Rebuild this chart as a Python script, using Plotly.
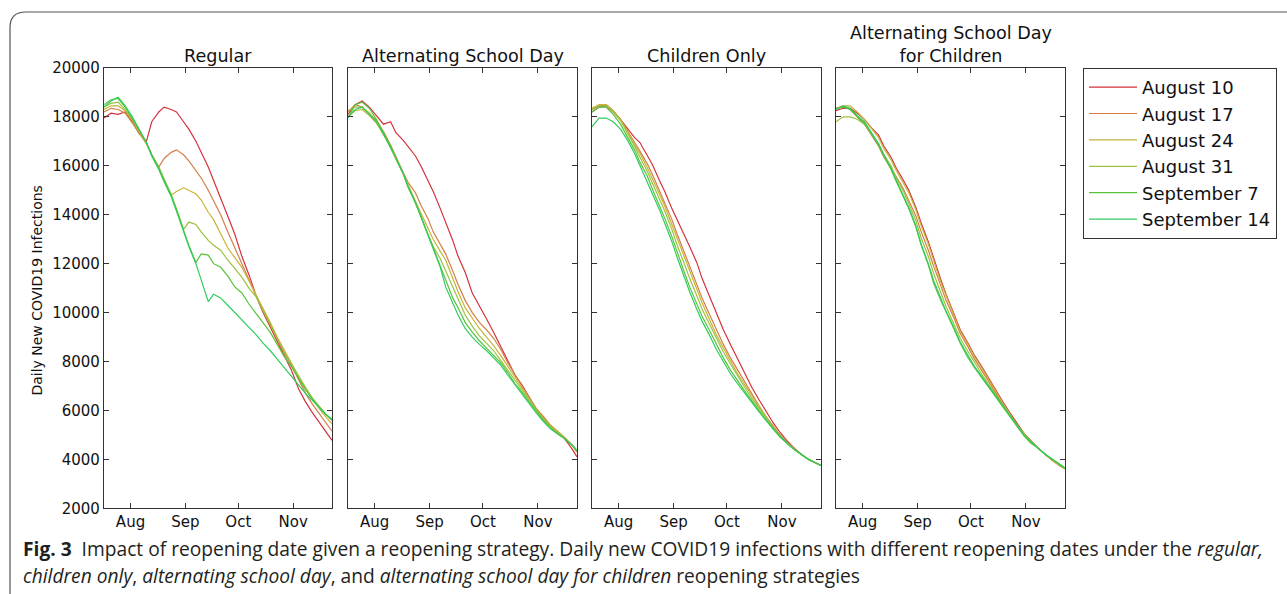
import plotly.graph_objects as go

W, H = 1287, 594
# observed page capture: rendered_row = 8.0 + 0.971 * figure_row
CAP_OFF, CAP_SCALE = 8.0, 0.971

dates = ["2020-07-17","2020-07-21","2020-07-25","2020-07-29","2020-08-02","2020-08-06","2020-08-10",
         "2020-08-13","2020-08-17","2020-08-20","2020-08-24","2020-08-27","2020-08-31","2020-09-03",
         "2020-09-07","2020-09-10","2020-09-14","2020-09-17","2020-09-21","2020-09-25","2020-09-29",
         "2020-10-03","2020-10-07","2020-10-11","2020-10-15","2020-10-19","2020-10-23","2020-10-27",
         "2020-10-31","2020-11-04","2020-11-08","2020-11-12","2020-11-16","2020-11-20","2020-11-23"]

series_names = ["August 10", "August 17", "August 24", "August 31", "September 7", "September 14"]
series_colors = ["#d3333b", "#d27f4a", "#c8b23a", "#9bc23f", "#58c23f", "#2fcc5c"]
panel_titles = ["Regular", "Alternating School Day", "Children Only", "Alternating School Day<br>for Children"]

month_ticks = ["2020-08-01", "2020-09-01", "2020-10-01", "2020-11-01"]
month_labels = ["Aug", "Sep", "Oct", "Nov"]
y_ticks = [2000, 4000, 6000, 8000, 10000, 12000, 14000, 16000, 18000, 20000]

# Regular
reg_aug10 = [17950,18150,18100,18200,17800,17300,17000,17800,18200,18400,18300,18200,17800,17500,17000,16550,15950,15400,14700,13950,13200,12300,11550,10700,10000,9400,8800,8200,7650,6900,6350,5900,5500,5100,4780]
reg_aug17 = [18200,18350,18300,18150,17750,17300,16900,16450,15950,16300,16550,16650,16450,16200,15800,15500,15000,14550,14000,13300,12650,12000,11350,10700,10050,9500,8900,8350,7850,7250,6700,6250,5850,5450,5150]
reg_aug24 = [18300,18450,18450,18250,17850,17350,16900,16450,15950,15450,14800,14950,15100,15000,14850,14600,14100,13800,13200,12650,12250,11850,11300,10750,10200,9600,9000,8450,7950,7400,6900,6450,6050,5700,5450]
reg_aug31 = [18400,18550,18600,18300,17900,17400,16950,16450,15950,15450,14850,14250,13400,13700,13600,13300,12950,12750,12550,12150,11800,11450,11000,10650,10100,9500,8950,8400,7900,7400,6950,6500,6150,5800,5600]
reg_sep7 = [18500,18700,18750,18400,17950,17450,16950,16450,15900,15400,14800,14200,13400,12750,12050,12400,12350,12000,11850,11500,11050,10800,10350,9950,9600,9200,8700,8200,7800,7300,6850,6450,6100,5800,5650]
reg_sep14 = [18400,18650,18800,18450,18000,17450,16950,16400,15850,15350,14750,14150,13350,12700,12000,11300,10450,10750,10600,10300,10000,9700,9400,9100,8750,8450,8100,7750,7400,7050,6700,6400,6100,5800,5600]

# Alternating School Day
alt_aug10 = [18100,18500,18650,18400,18050,17700,17800,17350,17050,16750,16400,16000,15400,14950,14250,13700,12950,12300,11650,10800,10300,9750,9200,8600,8000,7450,7050,6550,6050,5750,5400,5100,4850,4450,4100]
alt_aug17 = [18200,18500,18400,18150,17850,17400,16850,16350,15750,15300,14900,14400,13850,13300,12800,12400,11700,11150,10500,10000,9600,9300,8950,8500,7950,7450,7000,6550,6100,5750,5400,5150,4900,4600,4300]
alt_aug24 = [18000,18250,18300,18050,17750,17300,16800,16300,15700,15200,14550,14100,13500,13000,12500,12150,11400,10850,10200,9750,9350,9000,8650,8250,7800,7350,6950,6500,6050,5700,5400,5150,4900,4600,4350]
alt_aug31 = [18250,18400,18400,18150,17800,17300,16750,16300,15700,15150,14500,13950,13200,12700,12200,11700,11000,10550,9900,9450,9050,8750,8450,8050,7650,7200,6850,6450,6000,5650,5350,5100,4850,4600,4350]
alt_sep7 = [17950,18500,18600,18350,17900,17350,16800,16300,15700,15100,14500,13950,13200,12600,11900,11300,10600,10200,9600,9200,8850,8550,8250,7950,7550,7100,6750,6350,5950,5600,5300,5050,4850,4600,4350]
alt_sep14 = [18000,18300,18400,18100,17800,17300,16750,16300,15700,15100,14500,13950,13200,12600,11850,11050,10350,9900,9350,9000,8700,8450,8150,7850,7450,7050,6700,6300,5900,5550,5250,5050,4850,4600,4380]

# Children Only
ch_aug10 = [18200,18400,18450,18200,17900,17500,17150,16950,16450,16050,15400,14950,14250,13800,13150,12700,12050,11400,10700,10000,9300,8700,8100,7500,6950,6450,5950,5500,5100,4750,4450,4200,4000,3850,3750]
ch_aug17 = [18300,18450,18500,18250,17900,17450,16950,16600,16100,15650,15000,14500,13800,13200,12450,11850,11150,10600,9950,9300,8700,8150,7650,7150,6650,6200,5750,5350,5000,4700,4450,4200,4000,3850,3750]
ch_aug24 = [18350,18500,18500,18250,17900,17400,16900,16500,15950,15500,14850,14350,13600,13000,12250,11650,10950,10400,9750,9100,8550,8000,7500,7050,6600,6150,5700,5300,4950,4650,4400,4200,4000,3850,3750]
ch_aug31 = [18300,18450,18450,18200,17850,17350,16800,16350,15800,15300,14650,14150,13400,12750,12000,11400,10700,10150,9550,8950,8400,7900,7400,6950,6500,6100,5700,5300,4950,4650,4400,4200,4000,3850,3750]
ch_sep7 = [18200,18400,18400,18100,17700,17200,16650,16150,15600,15050,14400,13850,13100,12450,11650,11050,10400,9850,9300,8700,8150,7650,7200,6800,6400,6000,5650,5250,4900,4650,4400,4200,4000,3850,3750]
ch_sep14 = [17600,17950,17950,17800,17500,17050,16500,16000,15400,14900,14200,13650,12900,12250,11400,10850,10150,9650,9100,8500,8000,7500,7100,6700,6300,5950,5600,5250,4950,4650,4400,4200,4000,3850,3750]

# Alternating School Day for Children
afc_aug10 = [18250,18350,18350,18150,17900,17550,17250,16800,16350,15900,15400,15000,14300,13650,12900,12200,11350,10750,10050,9300,8800,8250,7800,7300,6800,6350,5900,5450,5050,4750,4450,4200,3950,3750,3620]
afc_aug17 = [18350,18450,18300,18000,17700,17250,16800,16350,15900,15550,15050,14600,13950,13300,12550,11900,11050,10500,9850,9150,8650,8100,7650,7150,6700,6250,5800,5400,5000,4700,4450,4200,3950,3750,3620]
afc_aug24 = [18300,18450,18450,18200,17900,17500,17150,16700,16250,15800,15300,14900,14200,13550,12800,12100,11250,10700,10000,9250,8750,8200,7750,7250,6750,6300,5850,5400,5050,4750,4450,4200,3950,3750,3620]
afc_aug31 = [17800,18000,18000,17900,17700,17300,16900,16450,16000,15500,14950,14450,13750,13050,12300,11600,10800,10250,9600,8950,8450,7950,7500,7050,6600,6200,5800,5400,5000,4700,4450,4200,4000,3800,3650]
afc_sep7 = [18350,18400,18300,18000,17750,17300,16850,16400,15850,15350,14750,14250,13500,12750,11950,11200,10500,10000,9400,8750,8200,7750,7350,6950,6550,6150,5750,5350,4950,4650,4450,4200,4000,3800,3650]
afc_sep14 = [18300,18450,18350,18050,17800,17350,16900,16450,15900,15400,14800,14300,13550,12800,12000,11300,10600,10050,9450,8800,8300,7800,7400,7000,6600,6200,5800,5400,5000,4700,4450,4200,4000,3800,3650]

panels = [
    [reg_aug10, reg_aug17, reg_aug24, reg_aug31, reg_sep7, reg_sep14],
    [alt_aug10, alt_aug17, alt_aug24, alt_aug31, alt_sep7, alt_sep14],
    [ch_aug10, ch_aug17, ch_aug24, ch_aug31, ch_sep7, ch_sep14],
    [afc_aug10, afc_aug17, afc_aug24, afc_aug31, afc_sep7, afc_sep14],
]


def py(y):
    """target picture row -> paper fraction"""
    yf = (y - CAP_OFF) / CAP_SCALE
    return 1 - yf / H


# layout geometry (picture pixels)
x_px = [(104, 332), (348, 577), (592, 821), (836, 1065)]
y_top, y_bot = 67, 508
ydom = [py(y_bot), py(y_top)]

FONT = "DejaVu Sans, Liberation Sans, sans-serif"
AXC = "#333333"

fig = go.Figure()
layout = dict(
    width=W, height=H, margin=dict(l=0, r=0, t=0, b=0),
    paper_bgcolor="white", plot_bgcolor="white",
    font=dict(family=FONT, color="#111111"),
    showlegend=True,
    legend=dict(x=1083 / W, y=py(67), xanchor="left", yanchor="top",
                bordercolor=AXC, borderwidth=1, bgcolor="white",
                font=dict(family=FONT, size=18, color="#111111"),
                tracegroupgap=0, itemwidth=48),
)

annotations = []
for i, (series, (x0, x1)) in enumerate(zip(panels, x_px)):
    sfx = "" if i == 0 else str(i + 1)
    xa, ya = "x" + sfx, "y" + sfx
    for j, vals in enumerate(series):
        fig.add_trace(go.Scatter(
            x=dates, y=vals, mode="lines", name=series_names[j],
            line=dict(color=series_colors[j], width=1.2),
            xaxis=xa, yaxis=ya, showlegend=(i == 0), legendgroup=series_names[j],
        ))
    layout["xaxis" + sfx] = dict(
        domain=[x0 / W, x1 / W], anchor=ya, type="date",
        range=["2020-07-17", "2020-11-23"],
        tickmode="array", tickvals=month_ticks, ticktext=month_labels,
        ticks="inside", ticklen=5, tickwidth=1, tickcolor=AXC,
        showline=True, linecolor=AXC, linewidth=1.3, mirror="ticks",
        showgrid=False, zeroline=False,
        tickfont=dict(family=FONT, size=15, color="#111111"),
    )
    layout["yaxis" + sfx] = dict(
        domain=ydom, anchor=xa, range=[2000, 20000],
        tickmode="array", tickvals=y_ticks, ticktext=[str(v) for v in y_ticks],
        ticks="inside", ticklen=5, tickwidth=1, tickcolor=AXC,
        showline=True, linecolor=AXC, linewidth=1.3, mirror="ticks",
        showgrid=False, zeroline=False, showticklabels=(i == 0),
        tickfont=dict(family=FONT, size=15, color="#111111"),
    )
    annotations.append(dict(
        text=panel_titles[i], xref="paper", yref="paper",
        x=(x0 + x1) / 2 / W, y=py(67), xanchor="center", yanchor="bottom",
        showarrow=False, font=dict(family=FONT, size=17.6, color="#111111"),
    ))

annotations.append(dict(
    text="Daily New COVID19 Infections", xref="paper", yref="paper",
    x=37 / W, y=py(290), xanchor="center", yanchor="middle", textangle=-90,
    showarrow=False, font=dict(family=FONT, size=14, color="#111111"),
))

CAP = "Open Sans, Noto Sans, sans-serif"
annotations.append(dict(
    text="<b>Fig. 3</b>  Impact of reopening date given a reopening strategy. Daily new COVID19 infections "
         "with different reopening dates under the <i>regular,</i>",
    xref="paper", yref="paper", x=21 / W, y=py(548), xanchor="left", yanchor="middle",
    showarrow=False, font=dict(family=CAP, size=19.2, color="#231f20"),
))
annotations.append(dict(
    text="<i>children only</i>, <i>alternating school day</i>, and <i>alternating school day for children</i> "
         "reopening strategies",
    xref="paper", yref="paper", x=21 / W, y=py(575), xanchor="left", yanchor="middle",
    showarrow=False, font=dict(family=CAP, size=19.2, color="#231f20"),
))
layout["annotations"] = annotations

# outer rounded frame of the figure panel
fx = 10 / W
fy = py(11)
rx, ry = 16 / W, 16 / H
layout["shapes"] = [dict(
    type="path", xref="paper", yref="paper",
    path=f"M {fx},-0.1 L {fx},{fy - ry} Q {fx},{fy} {fx + rx},{fy} L 1.05,{fy}",
    line=dict(color="#555555", width=1.2),
)]

fig.update_layout(**layout)
fig.write_html("out.html")
